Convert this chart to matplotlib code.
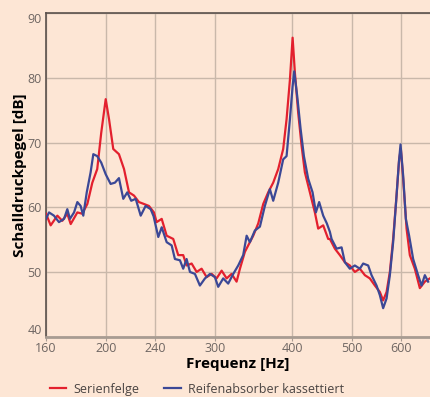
import matplotlib
matplotlib.use("Agg")
import matplotlib.pyplot as plt
from matplotlib.ticker import NullLocator

# Serienfelge (rot)
red_hz = [160, 162.8, 166.9, 170.0, 173.2, 175.4, 179.8, 183.1, 186.6, 190.1,
          193.6, 196.5, 199.8, 202.3, 205.5, 209.9, 213.9, 217.9, 222.0, 226.1,
          230.4, 234.7, 239.1, 241.5, 246.1, 250.7, 256.9, 261.7, 266.6, 270.0,
          275.1, 280.3, 285.5, 290.9, 296.4, 301.9, 307.6, 313.4, 319.2, 325.2,
          329.3, 335.4, 341.7, 346.0, 352.5, 359.1, 365.8, 372.7, 379.7, 386.8,
          391.7, 396.6, 400.6, 404.0, 409.0, 414.2, 419.3, 427.2, 435.2, 440.6,
          448.9, 457.3, 460.2, 468.8, 477.6, 486.6, 495.7, 505.0, 514.5, 524.2,
          534.0, 544.1, 554.3, 561.1, 568.3, 575.3, 582.4, 589.8, 595.5, 599.3,
          604.5, 612.2, 619.7, 631.3, 643.2, 655.3, 667.6]
red_db = [59.0, 57.2, 58.7, 57.9, 59.0, 57.4, 59.2, 59.0, 60.5, 63.8,
          65.9, 71.5, 76.7, 73.6, 69.0, 68.2, 65.9, 62.3, 61.8, 60.8,
          60.5, 60.2, 59.2, 57.7, 58.2, 55.6, 55.1, 52.6, 52.6, 51.0,
          51.3, 50.0, 50.5, 49.2, 49.7, 49.0, 50.2, 49.0, 49.7, 48.5,
          50.5, 53.1, 54.6, 55.6, 57.5, 60.5, 62.3, 63.8, 65.9, 69.0,
          73.6, 79.7, 86.2, 80.8, 74.6, 69.5, 65.4, 62.3, 59.2, 56.7,
          57.2, 55.1, 55.1, 53.6, 52.6, 51.5, 51.0, 50.0, 50.5, 49.5,
          49.0, 47.9, 46.9, 45.6, 46.9, 50.0, 55.1, 61.8, 67.4, 69.0,
          64.4, 56.7, 52.6, 50.5, 47.5, 48.5, 49.0]

# Reifenabsorber kassettiert (blau)
blue_hz = [160, 161.8, 164.8, 167.9, 171.1, 173.2, 174.9, 177.6, 179.8, 182.0,
           183.8, 186.2, 188.9, 190.8, 193.6, 196.5, 199.8, 203.5, 206.8, 209.9,
           213.3, 216.5, 219.7, 223.4, 227.6, 231.8, 236.2, 238.8, 243.0, 246.1,
           250.7, 255.4, 258.5, 263.4, 266.6, 270.0, 273.4, 278.5, 283.7, 289.1,
           294.5, 300.0, 303.7, 309.4, 315.2, 321.2, 327.2, 333.3, 337.6, 341.7,
           348.1, 354.7, 361.3, 368.1, 372.7, 379.7, 386.8, 391.7, 396.6, 400.6,
           403.0, 407.5, 412.7, 417.8, 424.5, 431.5, 436.8, 442.2, 448.9, 455.0,
           460.2, 463.1, 471.8, 480.7, 486.6, 495.7, 505.0, 514.5, 520.9, 530.7,
           537.4, 547.5, 554.3, 561.1, 568.3, 575.3, 582.4, 589.8, 594.9, 598.6,
           604.5, 610.6, 618.1, 627.4, 639.1, 647.3, 655.3, 663.4]
blue_db = [58.2, 59.2, 58.7, 57.7, 58.2, 59.7, 58.2, 59.2, 60.8, 60.2,
           58.7, 62.3, 65.4, 68.2, 67.9, 66.9, 65.1, 63.6, 63.8, 64.5,
           61.3, 62.3, 61.0, 61.3, 58.7, 60.2, 59.7, 58.6, 55.4, 56.9,
           54.6, 54.1, 52.0, 51.8, 50.5, 52.0, 50.0, 49.7, 47.9, 49.0,
           49.7, 49.2, 47.7, 49.0, 48.2, 49.7, 51.0, 52.6, 55.6, 54.6,
           56.4, 57.0, 60.2, 62.8, 61.0, 63.8, 67.4, 67.9, 73.6, 78.7,
           81.0, 77.2, 72.1, 67.9, 64.4, 62.3, 59.2, 60.8, 58.7, 57.5,
           56.2, 55.1, 53.6, 53.8, 51.5, 50.5, 51.0, 50.5, 51.3, 51.0,
           49.5, 47.9, 46.4, 44.4, 45.9, 49.5, 54.6, 61.8, 66.9, 69.7,
           64.9, 58.2, 55.6, 52.0, 49.5, 47.9, 49.5, 48.5]

x_ticks = [160, 200, 240, 300, 400, 500, 600]
y_ticks = [40, 50, 60, 70, 80, 90]

bg = "#fde6d5"
plt.rcParams["font.family"] = ["Open Sans", "DejaVu Sans"]

fig = plt.figure(figsize=(4.30, 3.97), dpi=100, facecolor=bg)
ax = fig.add_axes([0.107, 0.152, 0.893, 0.815], facecolor=bg)

ax.plot(red_hz, red_db, color="#e3202e", lw=1.6, label="Serienfelge", zorder=3)
ax.plot(blue_hz, blue_db, color="#3b4896", lw=1.6, label="Reifenabsorber kassettiert", zorder=4)

ax.set_xscale("log")
ax.set_xlim(160, 668)
ax.set_ylim(40, 90)
ax.set_xticks(x_ticks)
ax.set_xticklabels([str(t) for t in x_ticks])
ax.xaxis.set_minor_locator(NullLocator())
ax.set_yticks(y_ticks)
ax.set_yticklabels([str(t) for t in y_ticks])

ax.grid(True, color="#c9b8aa", lw=1.0, zorder=0)
ax.tick_params(axis="both", colors="#6e6662", labelsize=9, length=0, pad=3)
ax.tick_params(axis="x", length=3, color="#a89c92", pad=1)

# Randbeschriftungen nach innen schieben
ylabs = ax.get_yticklabels()
ylabs[0].set_va("bottom")
ylabs[-1].set_va("top")

ax.spines["right"].set_visible(False)
ax.spines["top"].set_color("#5a504c")
ax.spines["top"].set_linewidth(1.2)
ax.spines["left"].set_color("#5a504c")
ax.spines["left"].set_linewidth(1.2)
ax.spines["bottom"].set_color("#a89c92")
ax.spines["bottom"].set_linewidth(2)

ax.set_xlabel("Frequenz [Hz]", fontsize=11, fontweight="bold", color="black", labelpad=1)
ax.set_ylabel("Schalldruckpegel [dB]", fontsize=11, fontweight="bold", color="black", labelpad=0)

fig.legend(loc="center left", bbox_to_anchor=(0.095, 0.02), ncol=2, frameon=False,
           fontsize=9, labelcolor="#4a4442", handlelength=1.35, columnspacing=2.0,
           handletextpad=0.55, borderpad=0.2)

fig.savefig("out.png", dpi=100, facecolor=bg)
